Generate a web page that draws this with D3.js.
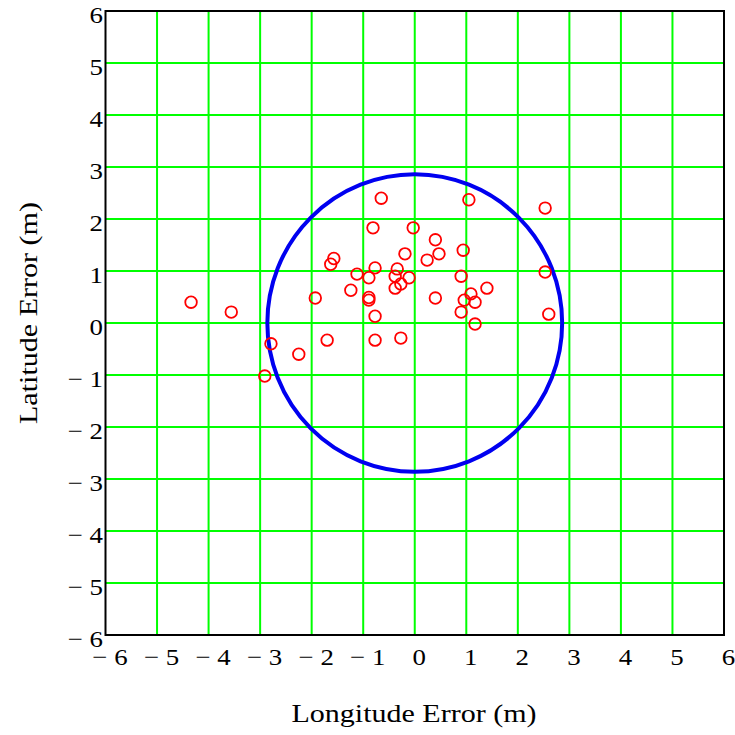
<!DOCTYPE html>
<html>
<head>
<meta charset="utf-8">
<script src="https://cdn.jsdelivr.net/npm/d3@7"></script>
<style>
  html, body { margin: 0; padding: 0; background: #fff; }
  svg text { font-family: "Liberation Serif", "Times New Roman", serif; fill: #000; }
</style>
</head>
<body>
<svg id="chart" width="735" height="735"></svg>
<script>
// Position errors of individual fixes, metres
const lonError = [-4.34, -3.56, -2.79, -2.91, -2.25, -1.93, -1.70, -1.63, -1.57, -1.24,
  -1.12, -0.89, -0.89, -0.89, -0.77, -0.77, -0.77, -0.81, -0.65, -0.27,
  -0.38, -0.34, -0.38, -0.27, -0.19, -0.11, -0.03, 0.24, 0.40, 0.47,
  0.40, 1.05, 0.94, 0.90, 0.90, 0.96, 1.09, 1.17, 1.17, 1.40,
  2.53, 2.53, 2.60];
const latError = [0.40, 0.21, -0.40, -1.02, -0.60, 0.48, -0.33, 1.13, 1.24, 0.63,
  0.94, 0.87, 0.49, 0.44, 0.13, -0.33, 1.06, 1.83, 2.40, -0.29,
  0.67, 1.04, 0.90, 0.75, 1.33, 0.87, 1.83, 1.21, 1.60, 1.33,
  0.48, 2.37, 1.40, 0.90, 0.21, 0.44, 0.56, 0.40, -0.02, 0.67,
  2.21, 0.98, 0.17];
// Error circle radius, metres
const errorRadius = 2.86;
const tickValues = [-6, -5, -4, -3, -2, -1, 0, 1, 2, 3, 4, 5, 6];
const xTitle = "Longitude Error (m)";
const yTitle = "Latitude Error (m)";

const svg = d3.select("#chart");
const plotLeft = 105.5, plotRight = 724, plotTop = 11, plotBottom = 635;

const x = d3.scaleLinear().domain([-6, 6]).range([plotLeft, plotRight]);
const y = d3.scaleLinear().domain([-6, 6]).range([plotBottom, plotTop]);

const fmt = v => v < 0 ? "\u2212 " + Math.abs(v) : String(v);
const wide = 1.12; // horizontal stretch of the label face

// grid
const grid = svg.append("g").attr("stroke", "#00ff00").attr("stroke-width", 2);
grid.selectAll("line.v").data(tickValues.slice(1, -1)).join("line")
  .attr("class", "v")
  .attr("x1", d => x(d)).attr("x2", d => x(d)).attr("y1", plotTop).attr("y2", plotBottom);
grid.selectAll("line.h").data(tickValues.slice(1, -1)).join("line")
  .attr("class", "h")
  .attr("y1", d => y(d)).attr("y2", d => y(d)).attr("x1", plotLeft).attr("x2", plotRight);

// frame
svg.append("rect").attr("x", plotLeft).attr("y", plotTop)
  .attr("width", plotRight - plotLeft).attr("height", plotBottom - plotTop)
  .attr("fill", "none").attr("stroke", "#000").attr("stroke-width", 2);

// error circle
svg.append("ellipse")
  .attr("cx", x(0)).attr("cy", y(0))
  .attr("rx", x(errorRadius) - x(0)).attr("ry", y(0) - y(errorRadius))
  .attr("fill", "none").attr("stroke", "#0000f0").attr("stroke-width", 4);

// fixes
svg.append("g").selectAll("circle").data(d3.range(lonError.length)).join("circle")
  .attr("cx", i => x(lonError[i])).attr("cy", i => y(latError[i]))
  .attr("r", 5.8).attr("fill", "none").attr("stroke", "#ff0000").attr("stroke-width", 1.8);

// tick labels
svg.append("g").selectAll("g").data(tickValues).join("g")
  .attr("transform", d => `translate(${x(d) + 4.5},665) scale(${wide},1)`)
  .append("text")
  .attr("text-anchor", "middle").attr("font-size", 24)
  .text(fmt);
svg.append("g").selectAll("g").data(tickValues).join("g")
  .attr("transform", d => `translate(103,${y(d) + 12}) scale(${wide},1)`)
  .append("text")
  .attr("text-anchor", "end").attr("font-size", 24)
  .text(fmt);

// axis titles
svg.append("text").attr("x", 414).attr("y", 722)
  .attr("text-anchor", "middle").attr("font-size", 26)
  .attr("textLength", 245).attr("lengthAdjust", "spacingAndGlyphs")
  .text(xTitle);
svg.append("text").attr("transform", "translate(37,313) rotate(-90)")
  .attr("text-anchor", "middle").attr("font-size", 26)
  .attr("textLength", 222).attr("lengthAdjust", "spacingAndGlyphs")
  .text(yTitle);
</script>
</body>
</html>
